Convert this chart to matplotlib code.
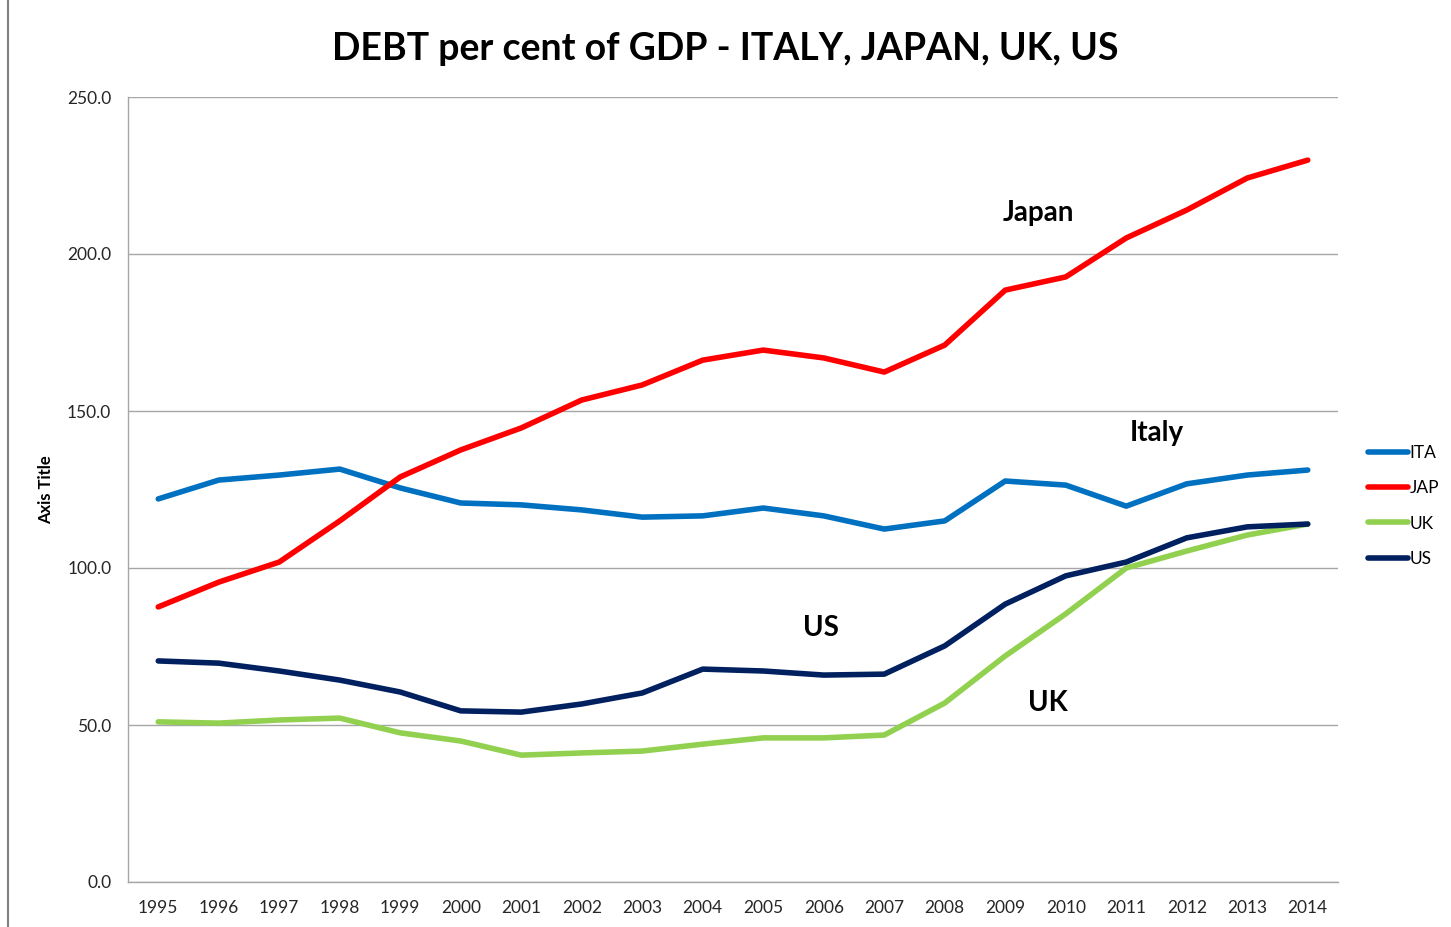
import matplotlib
matplotlib.use("Agg")
import matplotlib.pyplot as plt
from matplotlib.lines import Line2D

plt.rcParams['font.family'] = ['Lato', 'DejaVu Sans']

years = list(range(1995, 2015))
ita = [122.0, 128.0, 129.6, 131.5, 125.5, 120.7, 120.1, 118.5, 116.2, 116.6,
       119.1, 116.6, 112.4, 115.0, 127.7, 126.4, 119.7, 126.8, 129.6, 131.2]
jap = [87.6, 95.5, 101.9, 115.0, 129.0, 137.6, 144.6, 153.5, 158.3, 166.2,
       169.4, 166.9, 162.4, 171.0, 188.5, 192.7, 205.1, 214.0, 224.2, 229.9]
uk = [51.0, 50.6, 51.6, 52.2, 47.5, 44.9, 40.4, 41.1, 41.7, 43.9,
      45.9, 45.9, 46.8, 57.0, 72.0, 85.4, 100.0, 105.4, 110.5, 114.0]
us = [70.4, 69.7, 67.2, 64.3, 60.5, 54.5, 54.1, 56.7, 60.2, 67.8,
      67.2, 65.9, 66.2, 75.2, 88.5, 97.5, 101.9, 109.6, 113.1, 114.0]

series = [("ITA", ita, "#0070C0"), ("JAP", jap, "#FF0000"),
          ("UK", uk, "#92D050"), ("US", us, "#002060")]

fig = plt.figure(figsize=(14.51, 9.27), dpi=100)
ax = fig.add_axes([128 / 1451, 1 - 882 / 927, (1338 - 128) / 1451, (882 - 97) / 927])

for name, vals, col in series:
    ax.plot(years, vals, color=col, lw=4, label=name, solid_capstyle='round')

ax.set_xlim(1994.5, 2014.5)
ax.set_ylim(0, 250)
ax.set_yticks([0, 50, 100, 150, 200, 250])
ax.set_yticklabels([f"{v:.1f}" for v in [0, 50, 100, 150, 200, 250]])
ax.set_xticks(years)
ax.set_xticklabels([str(y) for y in years])
ax.tick_params(axis='both', length=0, labelsize=12.5, colors='#262626')
ax.tick_params(axis='x', pad=13)
ax.tick_params(axis='y', pad=12)
ax.grid(axis='y', color='#A6A6A6', lw=1)
ax.set_axisbelow(True)
for s in ['top', 'right']:
    ax.spines[s].set_visible(False)
for s in ['left', 'bottom']:
    ax.spines[s].set_color('#A6A6A6')
    ax.spines[s].set_linewidth(1)

ax.set_ylabel("Axis Title", fontsize=12, fontweight='bold', labelpad=9)

fig.text(0.5, 1 - 49 / 927, "DEBT per cent of GDP - ITALY, JAPAN, UK, US",
         ha='center', va='center', fontsize=27, fontweight='bold')

ax.text(2009.55, 213, "Japan", fontsize=20, fontweight='bold', ha='center', va='center')
ax.text(2011.5, 143, "Italy", fontsize=20, fontweight='bold', ha='center', va='center')
ax.text(2005.95, 81, "US", fontsize=20, fontweight='bold', ha='center', va='center')
ax.text(2009.7, 57, "UK", fontsize=20, fontweight='bold', ha='center', va='center')

handles = [Line2D([0], [0], color=c, lw=4, solid_capstyle='round') for _, _, c in series]
leg = fig.legend(handles, [n for n, _, _ in series], loc='center left',
                 bbox_to_anchor=(1352 / 1451, 1 - 506 / 927), frameon=False,
                 fontsize=12.5, handlelength=2.3, handletextpad=0.1, labelspacing=1.1)

fig.add_artist(Line2D([8 / 1451, 8 / 1451], [0, 1], color='#808080', lw=1.5))

fig.savefig("out.png", dpi=100)
